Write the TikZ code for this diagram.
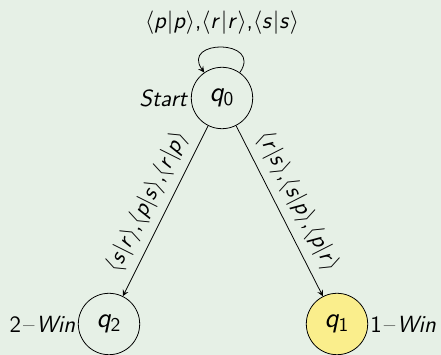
\documentclass[tikz,border=0pt]{standalone}
\usetikzlibrary{arrows}
\usetikzlibrary{positioning}
% sans serif math letters, as in a beamer slide
\DeclareSymbolFont{letters}{OT1}{cmss}{m}{sl}
\DeclareSymbolFont{operators}{OT1}{cmss}{m}{n}
\DeclareMathSymbol{,}{\mathpunct}{operators}{`,}
\definecolor{slidegreen}{RGB}{230,240,230}
\definecolor{winyellow}{RGB}{250,238,140}
\tikzstyle{state}=[circle,draw,minimum size=31.5pt,inner sep=0pt,font=\Large]
\tikzstyle{edge} = [draw,->,>=stealth]
\tikzstyle{weight} = [font=\large]
\tikzstyle{tag} = [font=\large,inner sep=1pt]

\begin{document}
\begin{tikzpicture}[x=0.513pt,y=-0.513pt]
    \path[use as bounding box, fill=slidegreen] (0,0) rectangle (441,355);
    % First the states of the game
    \foreach \pos/\name/\label/\tag/\side/\col in {{(222,98)/q0/q_0/$Start$/left/slidegreen}, {(109,324)/q2/q_2/$2$\kern1pt\textendash\kern1pt$Win$/left/slidegreen}, {(337,324)/q1/q_1/$1$\kern1pt\textendash\kern1pt$Win$/right/winyellow}}
        \node[state, fill=\col, label={[tag]\side:\tag}] (\name) at \pos {$\label$};

    % Moves between the states
    \foreach \source/ \dest /\weight in {q0/q2/{\langle s|r\rangle{,}\langle p|s\rangle{,}\langle r|p\rangle}, q0/q1/{\langle r|s\rangle{,}\langle s|p\rangle{,}\langle p|r\rangle}}
        \path[edge] (\source) -- node[weight, sloped, above=1pt] {$\weight$} (\dest);

    % a draw keeps the game in q0
    \path[edge] (q0) to[out=55, in=125, distance=21pt] node[weight, above=3pt] {$\langle p|p\rangle{,}\langle r|r\rangle{,}\langle s|s\rangle$} (q0);
\end{tikzpicture}
\end{document}
